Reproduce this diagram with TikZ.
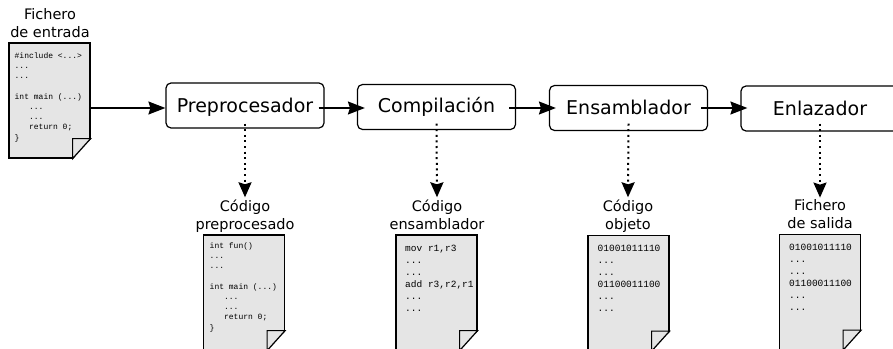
\documentclass[tikz,border=0pt]{standalone}
\usepackage{fontspec}
\setmainfont{DejaVu Sans}
\setmonofont{Liberation Mono}
\usetikzlibrary{arrows.meta}
\tikzset{
  caja/.style={draw,line width=1.2pt,rounded corners=5pt,minimum width=158pt,minimum height=45pt,inner sep=0pt,text height=13pt,text depth=0pt,font=\fontsize{19}{22}\selectfont},
  hoja/.style={draw,line width=1.2pt,fill=black!10,minimum width=81pt,minimum height=115pt,inner sep=0pt},
  titulo/.style={align=center,inner sep=0pt,font=\fontsize{14.5}{18}\selectfont,execute at begin node=\strut,execute at end node=\strut},
  fuente/.style={anchor=north west,align=left,inner sep=0pt,font=\fontsize{8}{10.2}\selectfont\ttfamily},
  fuenteb/.style={anchor=north west,align=left,inner sep=0pt,font=\fontsize{9.5}{12}\selectfont\ttfamily},
  paso/.style={line width=1.4pt,-{Stealth[length=17pt,width=13pt,inset=2pt]}},
  salida/.style={line width=2pt,dash pattern=on 2pt off 3.6pt,-{Stealth[length=15pt,width=13pt,inset=2pt]}}
}
\newcommand{\doblez}[1]{
  \fill[white] ([xshift=-18pt,yshift=-1pt]#1.south east) -- ([xshift=1pt,yshift=-1pt]#1.south east) -- ([xshift=1pt,yshift=20pt]#1.south east) -- cycle;
  \draw[line width=1.2pt,fill=black!10] ([xshift=-18pt]#1.south east) -- ([xshift=-18pt,yshift=20pt]#1.south east) -- ([yshift=20pt]#1.south east) -- cycle;
}
\begin{document}
\begin{tikzpicture}[x=1pt,y=-1pt]
\useasboundingbox (0,0) rectangle (893,348);
\clip (0,0) rectangle (893,348);
% cajas
\node [caja] (prep) at (245,105.5) {Preprocesador};
\node [caja,text height=10pt] (comp) at (436.5,107) {Compilación};
\node [caja] (ensam) at (628.5,108) {Ensamblador};
\node [caja] (enla) at (820,108.5) {Enlazador};
% hojas
\node [hoja] (entrada) at (49.5,100.5) {};
\doblez{entrada}
\node [hoja] (hprep) at (244,292.5) {};
\doblez{hprep}
\node [hoja] (hens) at (436.5,292.5) {};
\doblez{hens}
\node [hoja] (hobj) at (628.5,293) {};
\doblez{hobj}
\node [hoja] (hsal) at (820,292) {};
\doblez{hsal}
% titulos
\node [titulo] (tentrada) at (50,25.8) {Fichero\\de entrada};
\node [titulo] (tprep) at (245,217.4) {Código\\preprocesado};
\node [titulo] (tens) at (437,217.4) {Código\\ensamblador};
\node [titulo] (tobj) at (628,217.4) {Código\\objeto};
\node [titulo] (tsal) at (820,216.6) {Fichero\\de salida};
% texto de las hojas
\node [fuente] (lentrada) at (14.5,52.5) {\#include <...>\\...\\...\\\mbox{}\\int main (...)\\~~~...\\~~~...\\~~~return 0;\\\}};
\node [fuente] (lprep) at (209.5,242.5) {int fun()\\...\\...\\\mbox{}\\int main (...)\\~~~...\\~~~...\\~~~return 0;\\\}};
\node [fuenteb] (lens) at (405,244.5) {mov r1,r3\\...\\...\\add r3,r2,r1\\...\\...};
\node [fuenteb] (lobj) at (597.5,244.5) {01001011110\\...\\...\\01100011100\\...\\...};
\node [fuenteb] (lsal) at (789,244) {01001011110\\...\\...\\01100011100\\...\\...};
% flechas
\draw [paso] (entrada.east |- 0,108) -- (prep.west |- 0,108);
\draw [paso] ([xshift=-6pt,yshift=-2.5pt]prep.east) -- ([xshift=8pt,yshift=-1pt]comp.west);
\draw [paso] ([xshift=-7pt,yshift=-1pt]comp.east) -- ([xshift=7pt]ensam.west);
\draw [paso] ([xshift=-7pt]ensam.east) -- ([xshift=7pt,yshift=0.5pt]enla.west);
\draw [salida] ([yshift=5pt]prep.south) -- ([yshift=2.4pt]tprep.north);
\draw [salida] ([yshift=6.5pt]comp.south) -- ([yshift=2.4pt]tens.north);
\draw [salida] ([yshift=7.5pt]ensam.south) -- ([yshift=2.4pt]tobj.north);
\draw [salida] ([yshift=8pt]enla.south) -- ([yshift=1.6pt]tsal.north);
\end{tikzpicture}
\end{document}
